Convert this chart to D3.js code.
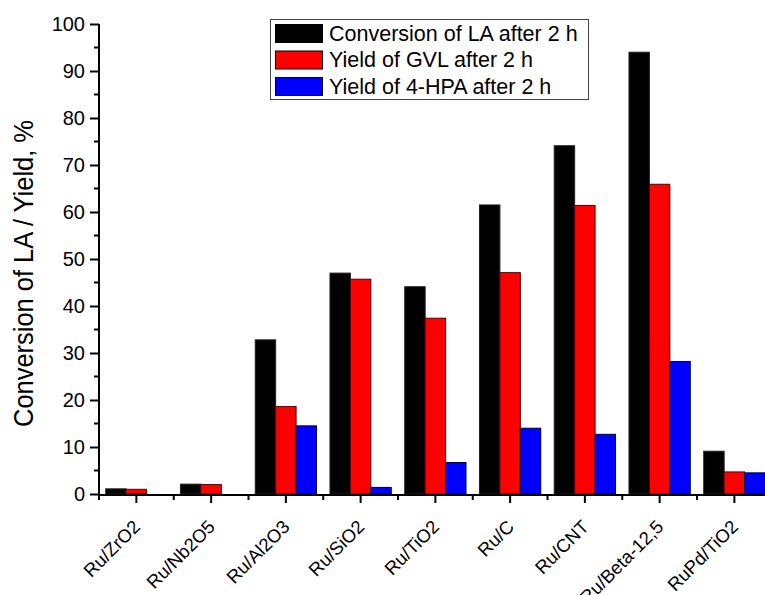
<!DOCTYPE html>
<html>
<head>
<meta charset="utf-8">
<script src="https://cdn.jsdelivr.net/npm/d3@7"></script>
<style>
  html, body { margin: 0; padding: 0; background: #fff; }
  svg { display: block; font-family: "Liberation Sans", Arial, sans-serif; }
</style>
</head>
<body>
<svg id="chart" width="765" height="595"></svg>
<script>
// Catalysts and measured values (%)
const categories = ["Ru/ZrO2", "Ru/Nb2O5", "Ru/Al2O3", "Ru/SiO2", "Ru/TiO2", "Ru/C", "Ru/CNT", "Ru/Beta-12,5", "RuPd/TiO2"];
const conversionLA = [1.1, 2.1, 32.8, 47.0, 44.1, 61.5, 74.1, 94.0, 9.1];
const yieldGVL = [1.0, 2.0, 18.6, 45.7, 37.4, 47.1, 61.4, 65.9, 4.7];
const yieldHPA = [0, 0, 14.5, 1.4, 6.7, 14.0, 12.7, 28.2, 4.5];
const seriesNames = ["Conversion of LA after 2 h", "Yield of GVL after 2 h", "Yield of 4-HPA after 2 h"];
const yTicks = [0, 10, 20, 30, 40, 50, 60, 70, 80, 90, 100];

const seriesFill = ["#000000", "#ff0000", "#0000ff"];
const seriesStroke = ["#222222", "#5a0000", "#00003c"];
const seriesValues = [conversionLA, yieldGVL, yieldHPA];

const svg = d3.select("#chart");
const plotLeft = 99, plotBottom = 494, plotTop = 24;
const step = 74.75;
const plotRight = plotLeft + step * categories.length;

const x = d3.scaleBand().domain(categories).range([plotLeft, plotRight])
  .paddingInner(0.18).paddingOuter(0.09);
const xs = d3.scaleBand().domain(d3.range(3)).range([0, x.bandwidth()]);
const y = d3.scaleLinear().domain([0, 100]).range([plotBottom, plotTop]);

// Bars
const groups = svg.append("g").selectAll("g")
  .data(categories)
  .join("g")
  .attr("transform", d => `translate(${x(d)},0)`);

groups.selectAll("rect")
  .data((d, i) => seriesValues.map((vals, s) => ({ s, v: vals[i] })).filter(e => e.v > 0))
  .join("rect")
  .attr("x", e => xs(e.s))
  .attr("width", xs.bandwidth())
  .attr("y", e => y(e.v))
  .attr("height", e => y(0) - y(e.v))
  .attr("fill", e => seriesFill[e.s])
  .attr("stroke", e => seriesStroke[e.s])
  .attr("stroke-width", 1);

// Y axis: labelled major ticks every 10, minor ticks between
const yAxis = svg.append("g").attr("transform", `translate(${plotLeft},0)`);
yAxis.call(d3.axisLeft(y).tickValues(yTicks).tickSize(9).tickPadding(5).tickFormat(d3.format("d")))
  .call(g => g.select(".domain").remove());
yAxis.selectAll(".tick line").attr("stroke", "#000").attr("stroke-width", 2);
yAxis.selectAll(".tick text").attr("font-size", 20).attr("fill", "#000")
  .attr("font-family", "Liberation Sans, Arial, sans-serif");
yAxis.append("g").selectAll("line")
  .data(d3.range(5, 100, 10))
  .join("line")
  .attr("x1", -5).attr("x2", 0)
  .attr("y1", d => y(d)).attr("y2", d => y(d))
  .attr("stroke", "#000").attr("stroke-width", 2);
yAxis.append("line")
  .attr("x1", 0).attr("x2", 0)
  .attr("y1", y(100)).attr("y2", y(0) + 1)
  .attr("stroke", "#000").attr("stroke-width", 2);

// X axis: major ticks at categories, minor ticks at group boundaries
const xAxis = svg.append("g").attr("transform", `translate(0,${plotBottom + 1})`);
xAxis.append("line")
  .attr("x1", plotLeft - 1).attr("x2", plotRight)
  .attr("stroke", "#000").attr("stroke-width", 2);
xAxis.selectAll("line.major")
  .data(categories)
  .join("line")
  .attr("class", "major")
  .attr("x1", d => x(d) + x.bandwidth() / 2).attr("x2", d => x(d) + x.bandwidth() / 2)
  .attr("y1", 0).attr("y2", 8)
  .attr("stroke", "#000").attr("stroke-width", 2);
xAxis.selectAll("line.minor")
  .data(d3.range(categories.length + 1))
  .join("line")
  .attr("class", "minor")
  .attr("x1", i => plotLeft + i * x.step()).attr("x2", i => plotLeft + i * x.step())
  .attr("y1", 0).attr("y2", 5)
  .attr("stroke", "#000").attr("stroke-width", 2);
xAxis.selectAll("text")
  .data(categories)
  .join("text")
  .attr("transform", d => `translate(${x(d) + x.bandwidth() / 2 + 5},${33}) rotate(-45)`)
  .attr("text-anchor", "end")
  .attr("font-size", 18.5)
  .attr("fill", "#000")
  .text(d => d);

// Y axis title
svg.append("text")
  .attr("transform", "translate(33,427) rotate(-90)")
  .attr("font-size", 28)
  .attr("textLength", 307)
  .attr("lengthAdjust", "spacingAndGlyphs")
  .attr("fill", "#000")
  .text("Conversion of LA / Yield, %");

// Legend
const legend = svg.append("g");
legend.append("rect")
  .attr("x", 270.5).attr("y", 19.5).attr("width", 318).attr("height", 80)
  .attr("fill", "#fff").attr("stroke", "#444").attr("stroke-width", 1);
const rows = legend.selectAll("g.row")
  .data(seriesNames)
  .join("g")
  .attr("class", "row")
  .attr("transform", (d, i) => `translate(275.5,${24.5 + i * 26.5})`);
rows.append("rect")
  .attr("width", 47).attr("height", 18)
  .attr("fill", (d, i) => seriesFill[i])
  .attr("stroke", "#000").attr("stroke-width", 1);
rows.append("text")
  .attr("x", 53.5).attr("y", 16)
  .attr("font-size", 21.5)
  .attr("fill", "#000")
  .text(d => d);
</script>
</body>
</html>
